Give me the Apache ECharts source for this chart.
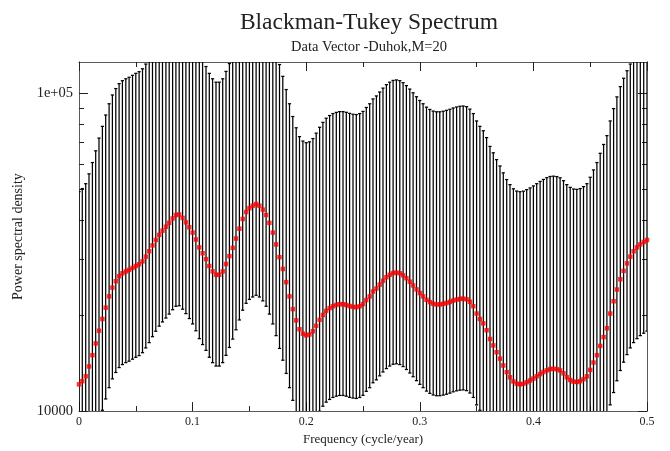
<!DOCTYPE html>
<html><head><meta charset="utf-8">
<script src="https://cdn.jsdelivr.net/npm/echarts@6/dist/echarts.min.js"></script>
<style>html,body{margin:0;padding:0;background:#fff}#c{width:670px;height:451px}</style>
</head><body><div id="c"></div>
<script>
// Frequency grid (cycle/year)
const freq = [
 0, 0.0029, 0.0059, 0.0088, 0.0118, 0.0147, 0.0176, 0.0206, 0.0235, 0.0265, 0.0294, 0.0324, 0.0353, 0.0382, 0.0412, 0.0441, 0.0471,
 0.05, 0.0529, 0.0559, 0.0588, 0.0618, 0.0647, 0.0676, 0.0706, 0.0735, 0.0765, 0.0794, 0.0824, 0.0853, 0.0882, 0.0912, 0.0941, 0.0971,
 0.1, 0.1029, 0.1059, 0.1088, 0.1118, 0.1147, 0.1176, 0.1206, 0.1235, 0.1265, 0.1294, 0.1324, 0.1353, 0.1382, 0.1412, 0.1441, 0.1471,
 0.15, 0.1529, 0.1559, 0.1588, 0.1618, 0.1647, 0.1676, 0.1706, 0.1735, 0.1765, 0.1794, 0.1824, 0.1853, 0.1882, 0.1912, 0.1941, 0.1971,
 0.2, 0.2029, 0.2059, 0.2088, 0.2118, 0.2147, 0.2176, 0.2206, 0.2235, 0.2265, 0.2294, 0.2324, 0.2353, 0.2382, 0.2412, 0.2441, 0.2471,
 0.25, 0.2529, 0.2559, 0.2588, 0.2618, 0.2647, 0.2676, 0.2706, 0.2735, 0.2765, 0.2794, 0.2824, 0.2853, 0.2882, 0.2912, 0.2941, 0.2971,
 0.3, 0.3029, 0.3059, 0.3088, 0.3118, 0.3147, 0.3176, 0.3206, 0.3235, 0.3265, 0.3294, 0.3324, 0.3353, 0.3382, 0.3412, 0.3441, 0.3471,
 0.35, 0.3529, 0.3559, 0.3588, 0.3618, 0.3647, 0.3676, 0.3706, 0.3735, 0.3765, 0.3794, 0.3824, 0.3853, 0.3882, 0.3912, 0.3941, 0.3971,
 0.4, 0.4029, 0.4059, 0.4088, 0.4118, 0.4147, 0.4176, 0.4206, 0.4235, 0.4265, 0.4294, 0.4324, 0.4353, 0.4382, 0.4412, 0.4441, 0.4471,
 0.45, 0.4529, 0.4559, 0.4588, 0.4618, 0.4647, 0.4676, 0.4706, 0.4735, 0.4765, 0.4794, 0.4824, 0.4853, 0.4882, 0.4912, 0.4941, 0.4971,
 0.5
];

// Power spectral density estimate (red points)
const psd = [
 12140, 12420, 12870, 13820, 15000, 16330, 17910, 19500, 21170, 22970,
 24480, 25640, 26570, 27150, 27530, 27830, 28230, 28630, 28980, 29600,
 30630, 31850, 33240, 34570, 35870, 36980, 38050, 39140, 40410, 41430,
 41580, 40560, 39280, 37910, 36460, 34690, 32770, 31400, 30090, 28630,
 27530, 26860, 26860, 27530, 29040, 30740, 32650, 34940, 37510, 40270,
 42320, 43540, 44320, 44860, 44320, 43080, 41430, 39140, 36460, 33480,
 30520, 28020, 25460, 22970, 20940, 19300, 18100, 17530, 17320, 17430,
 17850, 18560, 19370, 20070, 20680, 21090, 21390, 21580, 21700, 21700,
 21590, 21420, 21290, 21240, 21390, 21730, 22360, 22970, 23790, 24310,
 25010, 25730, 26380, 26860, 27200, 27300, 27150, 26760, 26200, 25550,
 24870, 24170, 23520, 22970, 22410, 22040, 21780, 21670, 21670, 21760,
 21900, 22070, 22280, 22440, 22550, 22600, 22490, 22090, 21390, 20280,
 19500, 18890, 17970, 16860, 16100, 15320, 14630, 13920, 13260, 12780,
 12400, 12200, 12140, 12190, 12330, 12480, 12660, 12870, 13080, 13270,
 13440, 13560, 13590, 13550, 13430, 13150, 12780, 12530, 12380, 12350,
 12420, 12600, 12870, 13480, 14220, 15000, 16040, 17100, 18230, 20280,
 22170, 24140, 26010, 27630, 29180, 30630, 31850, 32770, 33480, 34080,
 34570
];

// Lower confidence bound
const lowerCI = [
 6260, 6410, 6640, 7130, 7740, 8430, 9240, 10060, 10920, 11850,
 12630, 13230, 13710, 14010, 14210, 14360, 14570, 14770, 14950, 15270,
 15810, 16430, 17150, 17840, 18510, 19080, 19630, 20200, 20850, 21380,
 21460, 20930, 20270, 19560, 18810, 17900, 16910, 16200, 15530, 14770,
 14210, 13860, 13860, 14210, 14980, 15860, 16850, 18030, 19360, 20780,
 21840, 22470, 22870, 23150, 22870, 22230, 21380, 20200, 18810, 17280,
 15750, 14460, 13140, 11850, 10810, 9960, 9340, 9050, 8940, 8990,
 9210, 9580, 9990, 10360, 10670, 10880, 11040, 11140, 11200, 11200,
 11140, 11050, 10990, 10960, 11040, 11210, 11540, 11850, 12280, 12540,
 12910, 13280, 13610, 13860, 14040, 14090, 14010, 13810, 13520, 13180,
 12830, 12470, 12140, 11850, 11560, 11370, 11240, 11180, 11180, 11230,
 11300, 11390, 11500, 11580, 11640, 11660, 11600, 11400, 11040, 10460,
 10060, 9750, 9270, 8700, 8310, 7910, 7550, 7180, 6840, 6590,
 6400, 6300, 6260, 6290, 6360, 6440, 6530, 6640, 6750, 6850,
 6940, 7000, 7010, 6990, 6930, 6790, 6590, 6470, 6390, 6370,
 6410, 6500, 6640, 6960, 7340, 7740, 8280, 8820, 9410, 10460,
 11440, 12460, 13420, 14260, 15060, 15810, 16430, 16910, 17280, 17590,
 17840
];

// Upper confidence bound
const upperCI = [
 49050, 50180, 51990, 55830, 60600, 65970, 72360, 78780, 85530, 92800,
 98900, 103590, 107340, 109690, 111220, 112430, 114050, 115670, 117080, 119580,
 123750, 128670, 134290, 139660, 144910, 149400, 153720, 158130, 163260, 167380,
 167980, 163860, 158690, 153160, 147300, 140150, 132390, 126860, 121560, 115670,
 111220, 108510, 108510, 111220, 117320, 124190, 131910, 141160, 151540, 162690,
 170970, 175900, 179050, 181230, 179050, 174040, 167380, 158130, 147300, 135260,
 123300, 113200, 102860, 92800, 84600, 77970, 73120, 70820, 69970, 70420,
 72110, 74980, 78250, 81080, 83550, 85200, 86420, 87180, 87670, 87670,
 87220, 86540, 86010, 85810, 86420, 87790, 90330, 92800, 96110, 98210,
 101040, 103950, 106580, 108510, 109890, 110290, 109690, 108110, 105850, 103220,
 100470, 97650, 95020, 92800, 90540, 89040, 87990, 87550, 87550, 87910,
 88480, 89160, 90010, 90660, 91100, 91300, 90860, 89240, 86420, 81930,
 78780, 76320, 72600, 68110, 65040, 61890, 59110, 56240, 53570, 51630,
 50100, 49290, 49050, 49250, 49810, 50420, 51150, 51990, 52840, 53610,
 54300, 54780, 54900, 54740, 54260, 53130, 51630, 50620, 50020, 49890,
 50180, 50900, 51990, 54460, 57450, 60600, 64800, 69080, 73650, 81930,
 89570, 97530, 105080, 111630, 117890, 123750, 128670, 132390, 135260, 137680,
 139660
];

const yMajorTicks = [10000, 100000];
const yMinorTicks = [20000, 30000, 40000, 50000, 60000, 70000, 80000, 90000];
const yLabelText = ['10000', '1e+05'];

const serif = 'Liberation Serif';
const frame = '#5a5a5a';
const tickCol = '#222';

function yAxisDef(pos, ticks, len, showLabels, withName) {
  const ax = {
    type: 'log', logBase: 10, min: 10000, max: 125600, position: pos, offset: 0,
    axisLine: { show: true, onZero: false, lineStyle: { color: frame, width: 1 } },
    axisTick: { show: true, inside: true, length: len, customValues: ticks, lineStyle: { color: tickCol, width: 1 } },
    axisLabel: {
      show: showLabels, margin: 6, fontFamily: serif, fontSize: 14.5, color: '#222',
      customValues: showLabels ? yMajorTicks : undefined,
      formatter: function (v) {
        for (let i = 0; i < yMajorTicks.length; i++) {
          if (Math.abs(v - yMajorTicks[i]) < 1) return yLabelText[i];
        }
        return '';
      }
    },
    splitLine: { show: false },
    minorTick: { show: false }
  };
  if (withName) {
    ax.name = 'Power spectral density';
    ax.nameLocation = 'middle';
    ax.nameGap = 50;
    ax.nameTextStyle = { fontFamily: serif, fontSize: 14, color: '#222' };
  }
  return ax;
}

function xAxisDef(pos, showLabels) {
  const ax = {
    type: 'value', min: 0, max: 0.5, interval: 0.1, position: pos,
    axisLine: { show: true, onZero: false, lineStyle: { color: frame, width: 1 } },
    axisTick: { show: true, inside: true, length: 9, lineStyle: { color: tickCol, width: 1 } },
    minorTick: { show: true, splitNumber: 2, length: 5, lineStyle: { color: tickCol, width: 1 } },
    axisLabel: { show: showLabels, margin: 5, fontFamily: serif, fontSize: 12, color: '#222' },
    splitLine: { show: false },
    minorSplitLine: { show: false }
  };
  if (showLabels) {
    ax.name = 'Frequency (cycle/year)';
    ax.nameLocation = 'middle';
    ax.nameGap = 15;
    ax.nameTextStyle = { fontFamily: serif, fontSize: 13, color: '#222' };
  }
  return ax;
}

const chart = echarts.init(document.getElementById('c'), null, { renderer: 'canvas' });

const barData = freq.map((f, i) => [f, lowerCI[i], upperCI[i]]);
const ptData = freq.map((f, i) => [f, psd[i]]);

chart.setOption({
  animation: false,
  backgroundColor: '#ffffff',
  title: [
    { text: 'Blackman-Tukey Spectrum', left: 364, top: 6, textAlign: 'center',
      textStyle: { fontFamily: serif, fontSize: 23.5, fontWeight: 'normal', color: '#222' } },
    { text: 'Data Vector -Duhok,M=20', left: 364, top: 35, textAlign: 'center',
      textStyle: { fontFamily: serif, fontSize: 14.5, fontWeight: 'normal', color: '#222' } }
  ],
  grid: { left: 79, right: 23, top: 62, bottom: 33, containLabel: false },
  xAxis: [xAxisDef('bottom', true), xAxisDef('top', false)],
  yAxis: [
    yAxisDef('left', yMajorTicks, 9, true, true),
    yAxisDef('left', yMinorTicks, 5, false, false),
    yAxisDef('right', yMajorTicks, 9, false, false),
    yAxisDef('right', yMinorTicks, 5, false, false)
  ],
  series: [
    {
      type: 'custom',
      xAxisIndex: 0, yAxisIndex: 0,
      data: barData,
      encode: { x: 0, y: [1, 2] },
      clip: true,
      silent: true,
      z: 2,
      renderItem: function (params, api) {
        const x = api.value(0);
        const lo = api.coord([x, api.value(1)]);
        const hi = api.coord([x, api.value(2)]);
        const cap = 1.6;
        const st = { stroke: '#000', lineWidth: 1.25 };
        return {
          type: 'group',
          children: [
            { type: 'line', shape: { x1: lo[0], y1: lo[1], x2: hi[0], y2: hi[1] }, style: st },
            { type: 'line', shape: { x1: lo[0] - cap, y1: lo[1], x2: lo[0] + cap, y2: lo[1] }, style: st },
            { type: 'line', shape: { x1: hi[0] - cap, y1: hi[1], x2: hi[0] + cap, y2: hi[1] }, style: st }
          ]
        };
      }
    },
    {
      type: 'scatter',
      xAxisIndex: 0, yAxisIndex: 0,
      data: ptData,
      symbol: 'rect',
      symbolSize: 4.5,
      itemStyle: { color: '#ff0000' },
      silent: true,
      z: 5
    }
  ]
});
</script>
</body></html>
